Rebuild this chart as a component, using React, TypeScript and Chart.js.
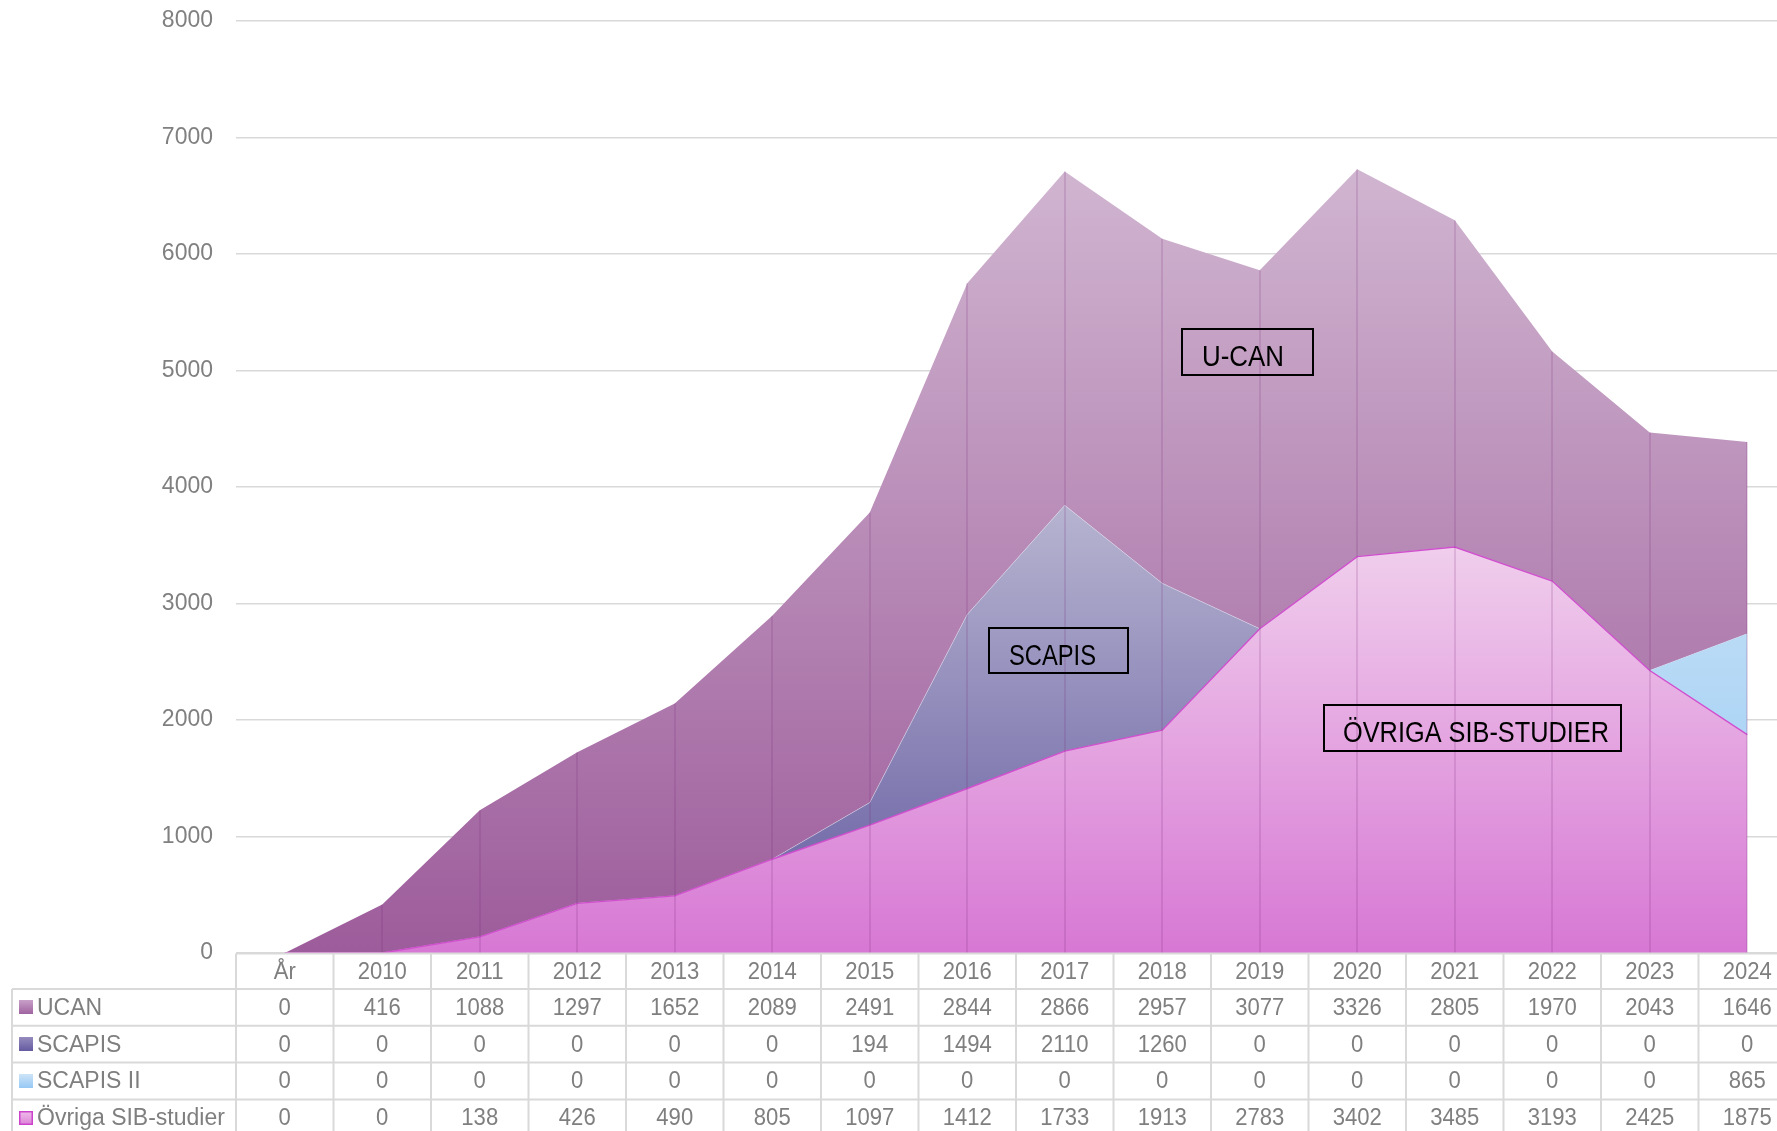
import { useEffect, useRef } from "react";
import { Chart, registerables } from "chart.js";

Chart.register(...registerables);

const categories = ["År", "2010", "2011", "2012", "2013", "2014", "2015", "2016", "2017", "2018", "2019", "2020", "2021", "2022", "2023", "2024"];
const ucan = [0, 416, 1088, 1297, 1652, 2089, 2491, 2844, 2866, 2957, 3077, 3326, 2805, 1970, 2043, 1646];
const scapis = [0, 0, 0, 0, 0, 0, 194, 1494, 2110, 1260, 0, 0, 0, 0, 0, 0];
const scapis2 = [0, 0, 0, 0, 0, 0, 0, 0, 0, 0, 0, 0, 0, 0, 0, 865];
const ovriga = [0, 0, 138, 426, 490, 805, 1097, 1412, 1733, 1913, 2783, 3402, 3485, 3193, 2425, 1875];
const seriesNames = ["UCAN", "SCAPIS", "SCAPIS II", "Övriga SIB-studier"];
const yMax = 8000;
const yStep = 1000;

// annotation boxes: centre in data units (category index, value), size in px
const annotations = [
  { text: "U-CAN", x: 9.873, y: 5159, w: 131, h: 46, padLeft: 20, textW: 82 },
  { text: "SCAPIS", x: 7.935, y: 2597, w: 139, h: 45, padLeft: 20, textW: 87 },
  { text: "ÖVRIGA SIB-STUDIER", x: 12.182, y: 1931, w: 297, h: 46, padLeft: 19, textW: 266 },
];

const REG = "'Liberation Sans', Arial, sans-serif";
const CONDENSE = 0.96;

type RGB = [number, number, number];
const rgb = (c: RGB) => `rgb(${c[0]},${c[1]},${c[2]})`;

// [top colour, bottom colour]
const ucanCols: [RGB, RGB] = [[208, 181, 208], [157, 92, 155]];
const scapisCols: [RGB, RGB] = [[182, 180, 208], [100, 90, 160]];
const scapis2Cols: [RGB, RGB] = [[195, 223, 244], [150, 202, 248]];
const ovrigaCols: [RGB, RGB] = [[240, 206, 236], [215, 120, 212]];

const keyCols: [RGB, RGB][] = [
  [[200, 160, 200], [160, 100, 160]],
  [[150, 140, 190], [100, 90, 160]],
  [[205, 228, 247], [150, 200, 245]],
  [[240, 190, 235], [220, 130, 215]],
];

const cumulative = (arrs: number[][]) => arrs[0].map((_, i) => arrs.reduce((s, a) => s + a[i], 0));

function gradientFill(cols: [RGB, RGB], stackUpTo: number[][]) {
  return (context: any) => {
    const chart = context.chart;
    const { ctx, chartArea, scales } = chart;
    if (!chartArea) return rgb(cols[1]);
    const topVal = Math.max(...cumulative(stackUpTo));
    const yTop = scales.y.getPixelForValue(topVal);
    const g = ctx.createLinearGradient(0, yTop, 0, chartArea.bottom);
    g.addColorStop(0, rgb(cols[0]));
    g.addColorStop(1, rgb(cols[1]));
    return g;
  };
}

const dropLinesPlugin = {
  id: "dropLines",
  afterDatasetsDraw(chart: any) {
    const { ctx, chartArea, scales } = chart;
    const tot = cumulative([ovriga, scapis2, scapis, ucan]);
    ctx.save();
    ctx.strokeStyle = "rgba(120,40,120,0.16)";
    ctx.lineWidth = 2;
    tot.forEach((v, i) => {
      if (v <= 0) return;
      const px = Math.round(scales.x.getPixelForValue(i));
      ctx.beginPath();
      ctx.moveTo(px, scales.y.getPixelForValue(v));
      ctx.lineTo(px, chartArea.bottom);
      ctx.stroke();
    });
    ctx.restore();
  },
};

const annotationPlugin = {
  id: "boxes",
  afterDatasetsDraw(chart: any) {
    const { ctx, scales } = chart;
    ctx.save();
    annotations.forEach((a) => {
      const cx = scales.x.getPixelForValue(a.x);
      const cy = scales.y.getPixelForValue(a.y);
      const left = Math.round(cx - a.w / 2);
      const top = Math.round(cy - a.h / 2);
      ctx.strokeStyle = "#000";
      ctx.lineWidth = 2;
      ctx.strokeRect(left, top, a.w, a.h);
      ctx.fillStyle = "#000";
      ctx.font = `29px ${REG}`;
      ctx.textAlign = "left";
      ctx.textBaseline = "middle";
      ctx.fillText(a.text, left + a.padLeft, top + a.h / 2 + 6, a.textW);
    });
    ctx.restore();
  },
};

const tablePlugin = {
  id: "dataTable",
  afterDraw(chart: any) {
    const { ctx, chartArea: a, scales } = chart;
    const x = scales.x;
    const n = categories.length;
    const colW = (a.right - a.left) / n;
    const headerTop = a.bottom + 0.5;
    const headerH = 35.5;
    const rowH = 36.8;
    const labelLeft = 12;
    const rows = [ucan, scapis, scapis2, ovriga];
    const tableBottom = headerTop + headerH + rowH * rows.length;
    ctx.save();
    ctx.strokeStyle = "#d9d9d9";
    ctx.lineWidth = 2;
    const line = (x1: number, y1: number, x2: number, y2: number) => {
      ctx.beginPath();
      ctx.moveTo(x1, y1);
      ctx.lineTo(x2, y2);
      ctx.stroke();
    };
    line(a.left, headerTop, a.right, headerTop);
    for (let r = 0; r <= rows.length; r++) {
      const yy = headerTop + headerH + r * rowH;
      line(labelLeft, yy, a.right, yy);
    }
    for (let i = 0; i <= n; i++) {
      const xx = a.left + i * colW;
      line(xx, headerTop, xx, tableBottom);
    }
    line(labelLeft, headerTop + headerH, labelLeft, tableBottom);

    ctx.fillStyle = "#7f7f7f";
    ctx.textAlign = "center";
    ctx.textBaseline = "middle";
    ctx.font = `23px ${REG}`;
    const cText = (s: string, px: number, py: number) => {
      const w = ctx.measureText(s).width;
      ctx.fillText(s, px, py, w * CONDENSE);
    };
    categories.forEach((c, i) => cText(c, x.getPixelForValue(i), headerTop + headerH / 2 + 1));
    rows.forEach((vals, r) => {
      const cy = headerTop + headerH + r * rowH + rowH / 2 + 1;
      vals.forEach((v, i) => cText(String(v), x.getPixelForValue(i), cy));
    });

    ctx.textAlign = "left";
    ctx.font = `23px ${REG}`;
    seriesNames.forEach((name, r) => {
      const cy = headerTop + headerH + r * rowH + rowH / 2;
      const ks = 14;
      const kx = 19;
      const ky = Math.round(cy - ks / 2);
      const g = ctx.createLinearGradient(0, ky, 0, ky + ks);
      g.addColorStop(0, rgb(keyCols[r][0]));
      g.addColorStop(1, rgb(keyCols[r][1]));
      ctx.fillStyle = g;
      ctx.fillRect(kx, ky, ks, ks);
      if (r === 3) {
        ctx.strokeStyle = "#cc44cc";
        ctx.lineWidth = 1.5;
        ctx.strokeRect(kx + 0.75, ky + 0.75, ks - 1.5, ks - 1.5);
      }
      ctx.fillStyle = "#7f7f7f";
      ctx.fillText(name, 37, cy + 1);
    });
    ctx.restore();
  },
};

export default function App() {
  const ref = useRef<HTMLCanvasElement | null>(null);
  useEffect(() => {
    if (!ref.current) return;
    const chart = new Chart(ref.current, {
      type: "line",
      data: {
        labels: categories,
        datasets: [
          {
            label: seriesNames[3],
            data: ovriga,
            fill: "origin",
            backgroundColor: gradientFill(ovrigaCols, [ovriga]),
            borderColor: "#d04fce",
            borderWidth: 1.4,
            pointRadius: 0,
            tension: 0,
          },
          {
            label: seriesNames[2],
            data: scapis2,
            fill: "-1",
            backgroundColor: gradientFill(scapis2Cols, [ovriga, scapis2]),
            borderColor: "rgba(0,0,0,0)",
            borderWidth: 0,
            pointRadius: 0,
            tension: 0,
          },
          {
            label: seriesNames[1],
            data: scapis,
            fill: "-1",
            backgroundColor: gradientFill(scapisCols, [ovriga, scapis2, scapis]),
            borderColor: "rgba(230,225,240,0.6)",
            borderWidth: 0.8,
            pointRadius: 0,
            tension: 0,
          },
          {
            label: seriesNames[0],
            data: ucan,
            fill: "-1",
            backgroundColor: gradientFill(ucanCols, [ovriga, scapis2, scapis, ucan]),
            borderColor: "rgba(0,0,0,0)",
            borderWidth: 0,
            pointRadius: 0,
            tension: 0,
          },
        ],
      },
      options: {
        animation: false,
        responsive: false,
        devicePixelRatio: 1,
        layout: { padding: { left: 0, right: 34, top: 21, bottom: 227 } },
        plugins: {
          legend: { display: false },
          tooltip: { enabled: false },
        },
        scales: {
          x: {
            type: "category",
            display: false,
            offset: true,
          },
          y: {
            stacked: true,
            min: 0,
            max: yMax,
            ticks: {
              stepSize: yStep,
              color: "#808080",
              font: { family: REG, size: 23 },
              padding: 23,
              callback: (v: any) => String(v),
            },
            grid: { color: "#d9d9d9", lineWidth: 1.5, drawTicks: false },
            border: { display: false },
            afterFit: (scale: any) => {
              scale.width = 236;
              scale.paddingTop = 0;
              scale.paddingBottom = 0;
            },
          },
        },
      },
      plugins: [dropLinesPlugin, annotationPlugin, tablePlugin],
    });
    return () => chart.destroy();
  }, []);

  return (
    <div style={{ position: "fixed", left: 0, top: 0, width: "1777px", height: "1131px", overflow: "hidden", background: "#fff" }}>
      <canvas ref={ref} width={1830} height={1180} style={{ display: "block", width: "1830px", height: "1180px" }} />
    </div>
  );
}
